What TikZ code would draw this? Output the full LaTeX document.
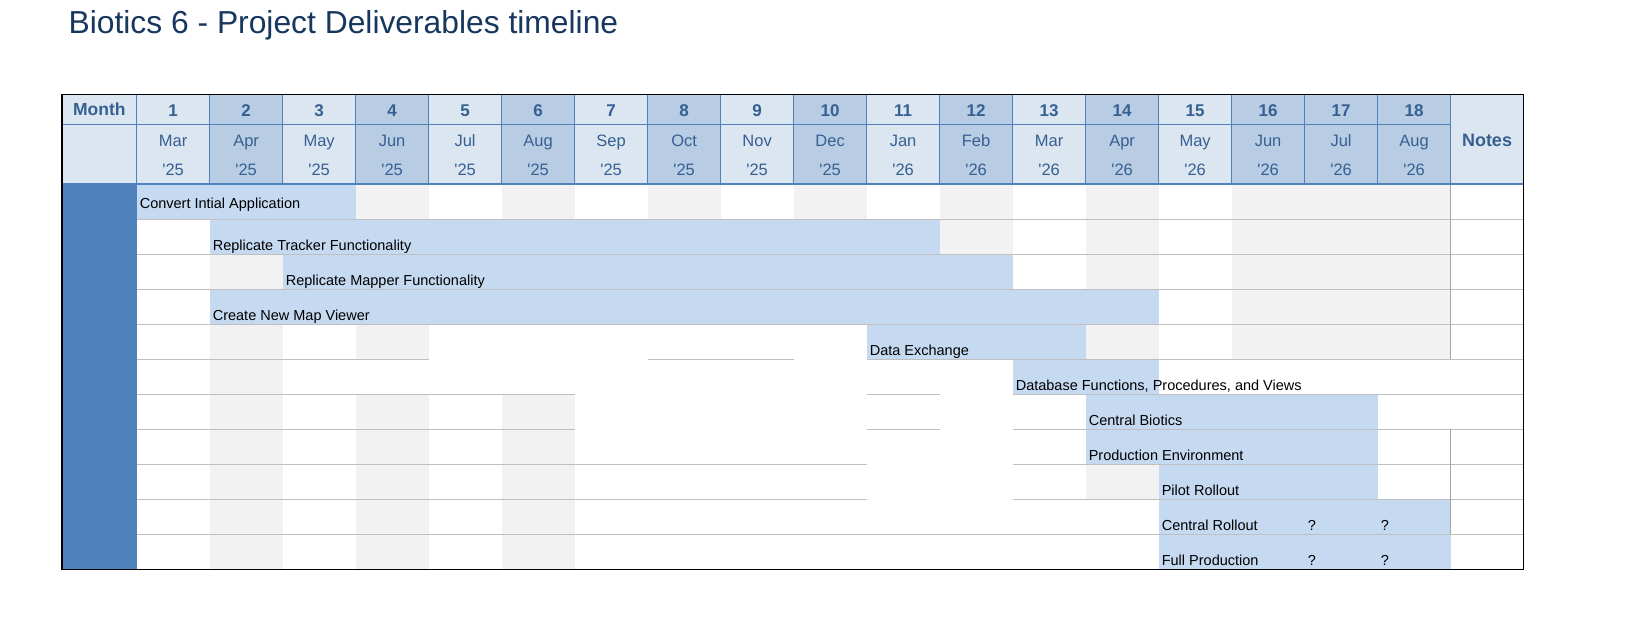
\documentclass[tikz,border=0pt]{standalone}
\usepackage{fontspec}
\setmainfont{Liberation Sans}
\usepackage{tikz}
\usetikzlibrary{calc,positioning}

\definecolor{titleblue}{RGB}{23,55,94}
\definecolor{hdrlight}{RGB}{220,230,241}
\definecolor{hdrdark}{RGB}{184,204,228}
\definecolor{hdrline}{RGB}{79,129,189}
\definecolor{hdrtext}{RGB}{54,96,146}
\definecolor{barblue}{RGB}{197,217,241}
\definecolor{cellgray}{RGB}{242,242,242}
\definecolor{gridgray}{RGB}{191,191,191}
\definecolor{notesgray}{RGB}{166,166,166}

\begin{document}
\begin{tikzpicture}[x=1pt,y=-1pt,
		hdrcell/.style={draw=hdrline,line width=0.8pt},
		gridline/.style={draw=gridgray,line width=0.9pt},
		numtext/.style={anchor=base,inner sep=0pt,text=hdrtext,font=\fontsize{17}{20}\selectfont\bfseries},
		montext/.style={anchor=base,inner sep=0pt,text=hdrtext,font=\fontsize{16.5}{20}\selectfont},
		tasktext/.style={anchor=base west,inner sep=0pt,font=\fontsize{14.5}{17}\selectfont}]

						\useasboundingbox (0,0) rectangle (1647,622);
						\fill[white] (0,0) rectangle (1647,622);

						\node[anchor=base west,inner sep=0pt,text=titleblue,font=\fontsize{31.8}{36}\selectfont] (title) at (68.4,33.3) {Biotics 6 - Project Deliverables timeline};

						\fill[hdrline] (62,184.3) rectangle (136.6,569.3);

						\foreach \r/\cs in {1/{4,6,8,10,12,14,16,17,18}, 2/{12,14,16,17,18}, 3/{2,14,16,17,18}, 4/{16,17,18}, 5/{2,4,14,16,17,18}, 6/{2}, 7/{2,4,6}, 8/{2,4,6}, 9/{2,4,6,14}, 10/{2,4,6}, 11/{2,4,6}}
							\foreach \c in \cs
								\fill[cellgray] ({63.6+73*\c},{149.3+35*\r}) rectangle ({136.6+73*\c},{184.3+35*\r});

						\foreach \r/\a/\b in {1/1/3, 2/2/11, 3/3/12, 4/2/14, 5/11/13, 6/13/14, 7/14/17, 8/14/17, 9/15/17, 10/15/18, 11/15/18}
							\fill[barblue] ({63.6+73*\a},{149.3+35*\r}) rectangle ({136.6+73*\b},{184.3+35*\r});

						\foreach \r/\a/\b in {1/1/19, 2/1/19, 3/1/19, 4/1/19, 5/1/4, 5/8/9, 5/11/19, 6/1/6, 6/11/11, 6/13/19, 7/1/6, 7/11/11, 7/13/19, 8/1/10, 8/13/19, 9/1/10, 9/13/19, 10/1/19}
							\draw[gridline] ({63.6+73*\a},{184.3+35*\r}) -- ({136.6+73*\b},{184.3+35*\r});

						\foreach \r in {1,...,5,8,9,10}
							\draw[draw=notesgray,line width=0.9pt] (1450.6,{149.3+35*\r}) -- (1450.6,{184.3+35*\r});

						\draw[hdrcell,fill=hdrlight] (62,94.5) rectangle (136.6,124);
						\draw[hdrcell,fill=hdrlight] (62,124) rectangle (136.6,184.3);
						\draw[hdrcell,fill=hdrlight] (1450.6,94.5) rectangle (1523.3,184.3);
						\node[numtext,font=\fontsize{17.5}{20}\selectfont\bfseries] (monthlbl) at (99.3,115.7) {Month};
						\node[numtext,font=\fontsize{18}{20}\selectfont\bfseries] (notes) at (1487,146.7) {Notes};

						\foreach \i/\m/\yr/\clr in {1/Mar/25/hdrlight, 2/Apr/25/hdrdark, 3/May/25/hdrlight, 4/Jun/25/hdrdark, 5/Jul/25/hdrlight, 6/Aug/25/hdrdark, 7/Sep/25/hdrlight, 8/Oct/25/hdrdark, 9/Nov/25/hdrlight, 10/Dec/25/hdrdark, 11/Jan/26/hdrlight, 12/Feb/26/hdrdark, 13/Mar/26/hdrlight, 14/Apr/26/hdrdark, 15/May/26/hdrlight, 16/Jun/26/hdrdark, 17/Jul/26/hdrdark, 18/Aug/26/hdrdark} {
							\draw[hdrcell,fill=\clr] ({63.6+73*\i},94.5) rectangle ({136.6+73*\i},184.3);
							\draw[hdrcell] ({63.6+73*\i},124) -- ({136.6+73*\i},124);
							\node[numtext] (num\i) at ({100.1+73*\i},116) {\i};
							\node[montext] (mon\i) at ({100.1+73*\i},146.3) {\m};
							\node[montext] (yr\i) at ({100.1+73*\i},175.7) {\textquotesingle\yr};
						}

						\draw[hdrline,line width=2.2pt] (62,184.3) -- (1523.3,184.3);
						\draw[black,line width=1.2pt] (62,94.5) rectangle (1523.3,569.3);

						\foreach \r/\a/\dy/\txt in {1/1/11/Convert Intial Application, 2/2/4.3/Replicate Tracker Functionality, 3/3/4.3/Replicate Mapper Functionality, 4/2/4.3/Create New Map Viewer, 5/11/4.3/Data Exchange, 6/13/4.3/{Database Functions, Procedures, and Views}, 7/14/4.3/Central Biotics, 8/14/4.3/Production Environment, 9/15/4.3/Pilot Rollout, 10/15/4.3/Central Rollout, 11/15/4.3/Full Production}
							\node[tasktext] (task\r) at ({66.6+73*\a},{184.3+35*\r-\dy}) {\txt};

						\node[tasktext] (qa) at (1307.6,530) {?};
						\node[tasktext] (qb) at (1380.6,530) {?};
						\node[tasktext] (qc) at (1307.6,565) {?};
						\node[tasktext] (qd) at (1380.6,565) {?};
\end{tikzpicture}
\end{document}
